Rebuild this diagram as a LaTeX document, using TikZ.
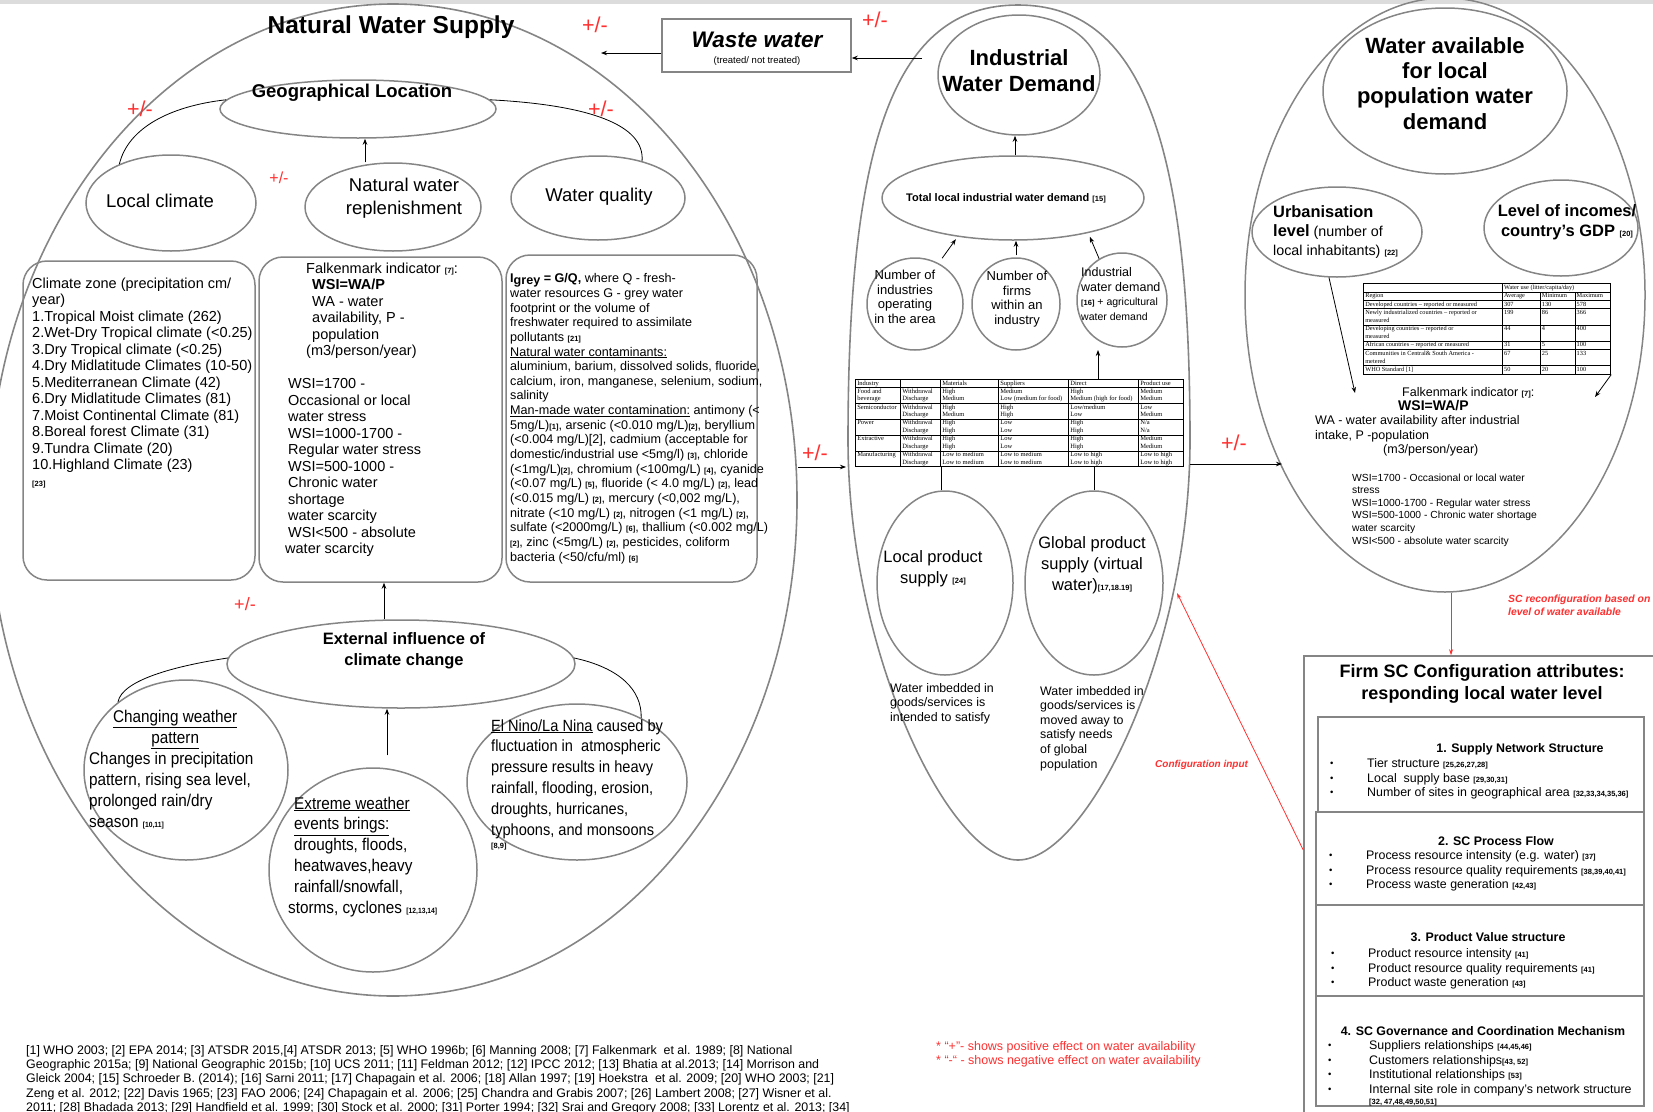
\documentclass[tikz,border=0pt]{standalone}
\usepackage{fontspec}
\setmainfont{Liberation Sans}
\newfontfamily\serf{Liberation Serif}
\newfontfamily\narrowf{Liberation Sans}[FakeStretch=0.9]
\usepackage{array}
\usetikzlibrary{shapes.geometric,arrows.meta,calc}
\definecolor{gl}{HTML}{858585}
\definecolor{rd}{HTML}{FF3030}
\definecolor{topbar}{HTML}{DCDCDC}
\newcommand\fsz[2]{\fontsize{#1}{#2}\selectfont}
\newcommand\rf[1]{{\fontsize{7.5}{7.5}\selectfont\bfseries #1}}
\newcommand\ml[1]{\begin{tabular}[t]{@{}l@{}}#1\end{tabular}}
\newcommand\mc[1]{\begin{tabular}[t]{@{}c@{}}#1\end{tabular}}
\newcommand\bul{\raisebox{1pt}{\fontsize{9.5}{9.5}\selectfont•}}
\newcolumntype{P}[1]{>{\raggedright\arraybackslash}p{#1}}
\newcommand\tabmid{%
\setlength\tabcolsep{1.5pt}\setlength\arrayrulewidth{0.6pt}%
\begin{tabular}{|P{41.4pt}|P{36.4pt}|P{54.4pt}|P{66.4pt}|P{66.4pt}|P{41.4pt}|}\hline
Industry & & Materials & Suppliers & Direct & Product use\\\hline
Food and\newline beverage & Withdrawal\newline Discharge & High\newline Medium & Medium\newline Low (medium for food) & High\newline Medium (high for food) & Medium\newline Medium\\\hline
Semiconductor & Withdrawal\newline Discharge & High\newline Medium & High\newline High & Low/medium\newline Low & Low\newline Medium\\\hline
Power & Withdrawal\newline Discharge & High\newline High & Low\newline Low & High\newline High & N/a\newline N/a\\\hline
Extractive & Withdrawal\newline Discharge & High\newline High & Low\newline Low & High\newline High & Medium\newline Medium\\\hline
Manufacturing & Withdrawal\newline Discharge & Low to medium\newline Low to medium & Low to medium\newline Low to medium & Low to high\newline Low to high & Low to high\newline Low to high\\\hline
\end{tabular}}
\newcommand\tabright{%
\setlength\tabcolsep{1.5pt}\setlength\arrayrulewidth{0.6pt}%
\begin{tabular}{|P{135.2pt}|P{34.2pt}|P{31.2pt}|P{32.2pt}|}\hline
 & \multicolumn{3}{l|}{Water use (litter/capita/day)}\\\hline
Region & Average & Minimum & Maximum\\\hline
Developed countries – reported or measured & 307 & 130 & 578\\\hline
Newly industrialized countries – reported or\newline measured & 199 & 86 & 366\\\hline
Developing countries – reported or\newline measured & 44 & 4 & 400\\\hline
African countries – reported or measured & 31 & 5 & 100\\\hline
Communities in Central\& South America -\newline metered & 67 & 25 & 133\\\hline
WHO Standard [1] & 50 & 20 & 100\\\hline
\end{tabular}}
\tikzset{
 ell/.style={ellipse, draw=gl, line width=1.5pt, inner sep=0pt},
 bigl/.style={draw=gl, line width=1.6pt},
 rbox/.style={draw=gl, line width=1.5pt, rounded corners=24pt, inner sep=0pt},
 sqbox/.style={draw=gl, line width=1.5pt, inner sep=0pt},
 txt/.style={inner sep=0pt, anchor=base west},
 ctxt/.style={inner sep=0pt, anchor=base},
 arr/.style={-{Stealth[length=6pt,width=4.5pt]}, line width=0.8pt, black},
 rarr/.style={-{Stealth[length=6pt,width=4pt]}, line width=0.8pt, rd},
 pm/.style={inner sep=0pt, anchor=base, text=rd, font=\fsz{21.5}{22}},
 conn/.style={line width=0.8pt, black},
}
\begin{document}
\begin{tikzpicture}[x=1pt,y=-1pt]
\useasboundingbox (0,0) rectangle (1653,1111);
\fill[topbar] (0,0) rectangle (1653,4);

% ================= Natural water supply =================
\node[ell, line width=1.6pt, minimum width=808pt, minimum height=992pt] (nat) at (393,500) {};
\node[ctxt, font=\fsz{24.5}{26}\bfseries] (natT) at (391,33) {Natural Water Supply};

\node[ell, minimum width=276pt, minimum height=58pt] (geo) at (358,109) {};
\node[ctxt, font=\fsz{18.5}{20}\bfseries] (geoT) at (352,97) {Geographical Location};

\node[ell, minimum width=170pt, minimum height=96pt] (loc) at (171,203) {};
\node[ctxt, font=\fsz{18.5}{20}] (locT) at (160,207) {Local climate};

\node[ell, minimum width=176pt, minimum height=88pt] (repl) at (393,207) {};
\node[ctxt, font=\fsz{18.5}{23}] (replT) at (404,191) {\mc{Natural water\\replenishment}};

\node[ell, minimum width=174pt, minimum height=84pt] (wq) at (598,198) {};
\node[ctxt, font=\fsz{18.5}{20}] (wqT) at (599,201) {Water quality};

\draw[arr] ([xshift=-28pt]repl.north) -- ([xshift=7pt]geo.south);
\draw[conn] (loc.143) .. controls (128,128) and (170,106) .. (geo.176);
\draw[conn] (geo.4) .. controls (590,105) and (645,125) .. (wq.40);

\node[rbox, minimum width=232pt, minimum height=319pt] (cz) at (139,420.5) {};
\node[rbox, minimum width=243pt, minimum height=325pt] (fb) at (380.5,419.5) {};
\node[rbox, minimum width=251pt, minimum height=327pt] (wqb) at (631.5,418.5) {};

\node[txt, font=\fsz{14.5}{16.5}] (czT) at (32,288) {\ml{Climate zone (precipitation cm/\\year)\\1.Tropical Moist climate (262)\\2.Wet-Dry Tropical climate (<0.25)\\3.Dry Tropical climate (<0.25)\\4.Dry Midlatitude Climates (10-50)\\5.Mediterranean Climate (42)\\6.Dry Midlatitude Climates (81)\\7.Moist Continental Climate (81)\\8.Boreal forest Climate (31)\\9.Tundra Climate (20)\\10.Highland Climate (23)\\\rf{[23]}}};

\node[txt, font=\fsz{14.5}{16.5}] (fbT) at (285,273) {\ml{\hspace*{21pt}Falkenmark indicator \rf{[7]}:\\\hspace*{27pt}\textbf{WSI=WA/P}\\\hspace*{27pt}WA - water\\\hspace*{27pt}availability, P -\\\hspace*{27pt}population\\\hspace*{21pt}(m3/person/year)\\ \\\hspace*{3pt}WSI=1700 -\\\hspace*{3pt}Occasional or local\\\hspace*{3pt}water stress\\\hspace*{3pt}WSI=1000-1700 -\\\hspace*{3pt}Regular water stress\\\hspace*{3pt}WSI=500-1000 -\\\hspace*{3pt}Chronic water\\\hspace*{3pt}shortage\\\hspace*{3pt}water scarcity\\\hspace*{3pt}WSI<500 - absolute\\water scarcity}};

\node[txt, font=\fsz{12.6}{14.65}] (wqbT) at (510,282) {\ml{\textbf{I\raisebox{-2.5pt}{grey} = G/Q,} where Q - fresh-\\water resources G - grey water\\footprint or the volume of\\freshwater required to assimilate\\pollutants \rf{[21]}\\\underline{Natural water contaminants:}\\aluminium, barium, dissolved solids, fluoride,\\calcium, iron, manganese, selenium, sodium,\\salinity\\\underline{Man-made water contamination:} antimony (<\\5mg/L)\rf{[1]}, arsenic (<0.010 mg/L)\rf{[2]}, beryllium\\(<0.004 mg/L)[2], cadmium (acceptable for\\domestic/industrial use <5mg/l) \rf{[3]}, chloride\\(<1mg/L)\rf{[2]}, chromium (<100mg/L) \rf{[4]}, cyanide\\(<0.07 mg/L) \rf{[5]}, fluoride (< 4.0 mg/L) \rf{[2]}, lead\\(<0.015 mg/L) \rf{[2]}, mercury (<0,002 mg/L),\\nitrate (<10 mg/L) \rf{[2]}, nitrogen (<1 mg/L) \rf{[2]},\\sulfate (<2000mg/L) \rf{[6]}, thallium (<0.002 mg/L)\\\rf{[2]}, zinc (<5mg/L) \rf{[2]}, pesticides, coliform\\bacteria (<50/cfu/ml) \rf{[6]}}};

\node[ell, minimum width=348pt, minimum height=88pt] (ext) at (401,664) {};
\node[ctxt, font=\fsz{16.5}{21}\bfseries] (extT) at (404,644.5) {\mc{External influence of\\climate change}};
\draw[arr] ([xshift=-17pt]ext.north) -- ([xshift=3.5pt]fb.south);

\node[ell, minimum width=204pt, minimum height=180pt] (cw) at (186,770) {};
\node[txt, font=\narrowf\fsz{17}{21}] (cwT) at (89,722) {\ml{\makebox[172pt]{\underline{Changing weather}}\\\makebox[172pt]{\underline{pattern}}\\Changes in precipitation\\pattern, rising sea level,\\prolonged rain/dry\\season \rf{[10,11]}}};

\node[ell, minimum width=208pt, minimum height=204pt] (exw) at (373,870) {};
\node[txt, font=\narrowf\fsz{17}{20.8}] (exwT) at (294,809) {\ml{\underline{Extreme weather}\\\underline{events brings:}\\droughts, floods,\\heatwaves,heavy\\rainfall/snowfall,\\\hspace*{-6pt}storms, cyclones \rf{[12,13,14]}}};
\draw[arr] ([xshift=14pt,yshift=12pt]exw.north) -- ([xshift=-14pt]ext.south);

\node[ell, minimum width=220pt, minimum height=156pt] (eln) at (577,782) {};
\node[txt, font=\narrowf\fsz{16.2}{20.8}] (elnT) at (491,731) {\ml{\underline{El Nino/La Nina} caused by\\fluctuation in\ \ atmospheric\\pressure results in heavy\\rainfall, flooding, erosion,\\droughts, hurricanes,\\typhoons, and monsoons}};
\node[txt] (elnR) at (491,848) {\rf{[8,9]}};

\draw[conn] (ext.178) .. controls (175,666) and (122,680) .. (cw.135);
\draw[conn] (ext.2) .. controls (620,668) and (642,690) .. (eln.45);

% ================= Industrial water demand =================
\draw[bigl] (1018,5) .. controls (1141,5) and (1190,140) .. (1190,440)
  .. controls (1190,650) and (1088,860) .. (1018,860)
  .. controls (948,860) and (848,650) .. (848,440)
  .. controls (848,140) and (895,5) .. (1018,5);

\node[ell, minimum width=162pt, minimum height=120pt] (iwd) at (1019,75) {};
\node[ctxt, font=\fsz{22}{26}\bfseries] (iwdT) at (1019,65) {\mc{Industrial\\Water Demand}};

\node[ell, minimum width=262pt, minimum height=84pt] (tot) at (1013,198) {};
\node[ctxt, font=\fsz{11}{12}\bfseries] (totT) at (1006,201) {Total local industrial water demand \rf{[15]}};
\draw[arr] ([xshift=2pt]tot.north) -- ([xshift=-4pt]iwd.south);

\node[ell, minimum width=96pt, minimum height=92pt] (c1) at (915,304) {};
\node[ctxt, font=\fsz{13}{14.5}] (c1T) at (905,279.5) {\mc{Number of\\industries\\operating\\in the area}};
\node[ell, minimum width=88pt, minimum height=92pt] (c2) at (1016,304) {};
\node[ctxt, font=\fsz{13}{14.5}] (c2T) at (1017,280.5) {\mc{Number of\\firms\\within an\\industry}};
\node[ell, minimum width=90pt, minimum height=94pt] (c3) at (1122,300) {};
\node[txt, font=\fsz{12.5}{14.6}] (c3T) at (1081,276.5) {\ml{Industrial\\water demand\\{\fsz{10.5}{12}\rf{[16]} + agricultural}\\{\fsz{10.5}{12}water demand}}};

\draw[arr, shorten <=6pt, shorten >=3pt] (c1.60) -- (tot.215);
\draw[arr, shorten <=2pt] (c2.north) -- (c2.north |- tot.south);
\draw[arr, shorten >=4pt] (c3.119) -- (tot.-25);

\node[inner sep=0pt, anchor=north west, fill=white, font=\serf\fsz{6.5}{7.6}] (mtab) at (855,379) {\tabmid};
\draw[arr] ([xshift=243pt]mtab.north west) -- ++(0,-29);

\node[ell, minimum width=136pt, minimum height=184pt] (lp) at (945,583) {};
\node[ctxt, font=\fsz{16.5}{20.5}] (lpT) at (933,562.5) {\mc{Local product\\supply \rf{[24]}}};
\node[ell, minimum width=138pt, minimum height=184pt] (gp) at (1094,583) {};
\node[ctxt, font=\fsz{16.5}{21}] (gpT) at (1092,548) {\mc{Global product\\supply (virtual\\water)\rf{[17,18.19]}}};
\draw[conn] ([xshift=-4pt]lp.north) -- ([xshift=-4pt]lp.north |- mtab.south);
\draw[conn] (gp.north) -- (gp.north |- mtab.south);

\node[txt, font=\fsz{12.4}{14.6}] (lpD) at (890,692) {\ml{Water imbedded in\\goods/services is\\intended to satisfy}};
\node[txt, font=\fsz{12.4}{14.6}] (gpD) at (1040,695) {\ml{Water imbedded in\\goods/services is\\moved away to\\satisfy needs\\of global\\population}};

% ================= Waste water =================
\node[sqbox, minimum width=189pt, minimum height=53pt] (waste) at (756.5,45.5) {};
\node[ctxt, font=\fsz{22.5}{24}\bfseries\itshape] (wasteT) at (757,47) {Waste water};
\node[ctxt, font=\fsz{9.5}{10}] (wasteS) at (757,63) {(treated/ not treated)};

\coordinate (midW) at (922,58);
\draw[arr] (midW) -- ([yshift=-12.5pt]waste.east);
\coordinate (natNE) at (601,53);
\draw[arr] ([yshift=-7.5pt]waste.west) -- (natNE);
\draw[arr] ([yshift=33pt]nat.east) -- (846,467) coordinate (midWL);

% ================= Water available =================
\node[ell, minimum width=400pt, minimum height=594pt] (wal) at (1445,295) {};
\coordinate (midE) at (1190,464);
\coordinate (walW) at (1282,464);
\draw[arr] (midE) -- (walW);

\node[ell, minimum width=244pt, minimum height=166pt] (wa) at (1445,91) {};
\node[ctxt, font=\fsz{22}{25.4}\bfseries] (waT) at (1445,53) {\mc{Water available\\for local\\population water\\demand}};

\node[ell, minimum width=170pt, minimum height=90pt] (urb) at (1337,232) {};
\node[txt, font=\fsz{14.3}{19}] (urbT) at (1273,217) {\ml{{\fsz{16.4}{19}\bfseries Urbanisation}\\{\fsz{16.4}{19}\bfseries level} (number of\\local inhabitants) \rf{[22]}}};
\node[ell, minimum width=154pt, minimum height=96pt] (inc) at (1561,228) {};
\node[ctxt, font=\fsz{16.5}{20}\bfseries] (incT) at (1567,216) {\mc{Level of incomes/\\country’s GDP \rf{[20]}}};

\coordinate (fk1) at (1355,393);
\draw[arr] (urb.260) -- (fk1);
\node[inner sep=0pt, anchor=north west, fill=white, font=\serf\fsz{6.3}{7.8}] (rtab) at (1363,283) {\tabright};
\coordinate (fk2) at (1595,397);
\draw[arr] (rtab.south east) -- (fk2);

\node[txt, font=\fsz{12.5}{14.3}] (fkT) at (1315,396) {\ml{\hspace*{87pt}Falkenmark indicator \rf{[7]}:\\\hspace*{83pt}{\fsz{14}{14.3}\bfseries WSI=WA/P}\\WA - water availability after industrial\\intake, P -population\\\hspace*{68pt}(m3/person/year)}};
\node[txt, font=\fsz{10.3}{12.6}] (wsiT) at (1352,481) {\ml{WSI=1700 - Occasional or local water\\stress\\WSI=1000-1700 - Regular water stress\\WSI=500-1000 - Chronic water shortage\\water scarcity\\WSI<500 - absolute water scarcity}};

% ================= Firm SC configuration =================
\node[sqbox, minimum width=361pt, minimum height=469pt] (firm) at (1484.5,890.5) {};
\draw[rarr] ([xshift=6pt]wal.south) -- ([xshift=6pt]wal.south |- firm.north);
\coordinate (cfg) at (1177,593);
\draw[rarr] ([yshift=40.5pt]firm.west) -- (cfg);
\node[txt, font=\fsz{10}{11}\bfseries\itshape, text=rd] (cfgT) at (1155,767) {Configuration input};
\node[txt, font=\fsz{10.4}{13}\bfseries\itshape, text=rd] (scT) at (1508,602) {\ml{SC reconfiguration based on\\level of water available}};

\node[ctxt, font=\fsz{18}{22}\bfseries] (firmT) at (1482,677.5) {\mc{Firm SC Configuration attributes:\\responding local water level}};

\node[sqbox, minimum width=326pt, minimum height=95pt] (b1) at (1481,764.5) {};
\node[sqbox, minimum width=328pt, minimum height=93pt] (b2) at (1480,858.5) {};
\node[sqbox, minimum width=328pt, minimum height=91pt] (b3) at (1480,950.5) {};
\node[sqbox, minimum width=328pt, minimum height=110pt] (b4) at (1480,1051) {};

\node[ctxt, font=\fsz{12.4}{14}\bfseries] (b1H) at (1520,752.5) {1. Supply Network Structure};
\node[ctxt, font=\fsz{12.4}{14}\bfseries] (b2H) at (1496,845.5) {2. SC Process Flow};
\node[ctxt, font=\fsz{12.4}{14}\bfseries] (b3H) at (1488,941.5) {3. Product Value structure};
\node[ctxt, font=\fsz{12.4}{14}\bfseries] (b4H) at (1483,1035.5) {4. SC Governance and Coordination Mechanism};

\node[txt, font=\fsz{12.4}{14.5}] (b1T) at (1330,767.5) {\ml{\makebox[37pt][l]{\bul}Tier structure \rf{[25,26,27,28]}\\\makebox[37pt][l]{\bul}Local\ \ supply base \rf{[29,30,31]}\\\makebox[37pt][l]{\bul}Number of sites in geographical area \rf{[32,33,34,35,36]}}};
\node[txt, font=\fsz{12.4}{14.5}] (b2T) at (1329,859.5) {\ml{\makebox[37pt][l]{\bul}Process resource intensity (e.g. water) \rf{[37]}\\\makebox[37pt][l]{\bul}Process resource quality requirements \rf{[38,39,40,41]}\\\makebox[37pt][l]{\bul}Process waste generation \rf{[42,43]}}};
\node[txt, font=\fsz{12.4}{14.5}] (b3T) at (1331,957.5) {\ml{\makebox[37pt][l]{\bul}Product resource intensity \rf{[41]}\\\makebox[37pt][l]{\bul}Product resource quality requirements \rf{[41]}\\\makebox[37pt][l]{\bul}Product waste generation \rf{[43]}}};
\node[txt, font=\fsz{12.4}{14.5}] (b4T) at (1328,1049.5) {\ml{\makebox[41pt][l]{\bul}Suppliers relationships \rf{[44,45,46]}\\\makebox[41pt][l]{\bul}Customers relationships\rf{[43, 52]}\\\makebox[41pt][l]{\bul}Institutional relationships \rf{[53]}\\\makebox[41pt][l]{\bul}Internal site role in company’s network structure\\[-3pt]\hspace*{41pt}\rf{[32, 47,48,49,50,51]}}};

% ================= +/- labels =================
\node[pm] (pm1) at (595,32) {+/-};
\node[pm] (pm2) at (875,27) {+/-};
\node[pm] (pm3) at (140,116) {+/-};
\node[pm] (pm4) at (601,116) {+/-};
\node[pm, font=\fsz{16}{16}] (pm5) at (279,183) {+/-};
\node[pm, font=\fsz{18}{18}] (pm6) at (245,610) {+/-};
\node[pm] (pm7) at (815,460) {+/-};
\node[pm] (pm8) at (1234,450) {+/-};

% ================= footnotes =================
\node[txt, font=\fsz{12.5}{14.5}, text=rd] (note) at (936,1050) {\ml{* “+”- shows positive effect on water availability\\** “-“ - shows negative effect on water availability}};

\node[txt, font=\fsz{12.4}{14.2}] (refs) at (26,1054.5) {\ml{[1] WHO 2003; [2] EPA 2014; [3] ATSDR 2015,[4] ATSDR 2013; [5] WHO 1996b; [6] Manning 2008; [7] Falkenmark\ \ et al. 1989; [8] National\\Geographic 2015a; [9] National Geographic 2015b; [10] UCS 2011; [11] Feldman 2012; [12] IPCC 2012; [13] Bhatia at al.2013; [14] Morrison and\\Gleick 2004; [15] Schroeder B. (2014); [16] Sarni 2011; [17] Chapagain et al. 2006; [18] Allan 1997; [19] Hoekstra\ \ et al. 2009; [20] WHO 2003; [21]\\Zeng et al. 2012; [22] Davis 1965; [23] FAO 2006; [24] Chapagain et al. 2006; [25] Chandra and Grabis 2007; [26] Lambert 2008; [27] Wisner et al.\\2011; [28] Bhadada 2013; [29] Handfield et al. 1999; [30] Stock et al. 2000; [31] Porter 1994; [32] Srai and Gregory 2008; [33] Lorentz et al. 2013; [34]}};
\end{tikzpicture}
\end{document}
